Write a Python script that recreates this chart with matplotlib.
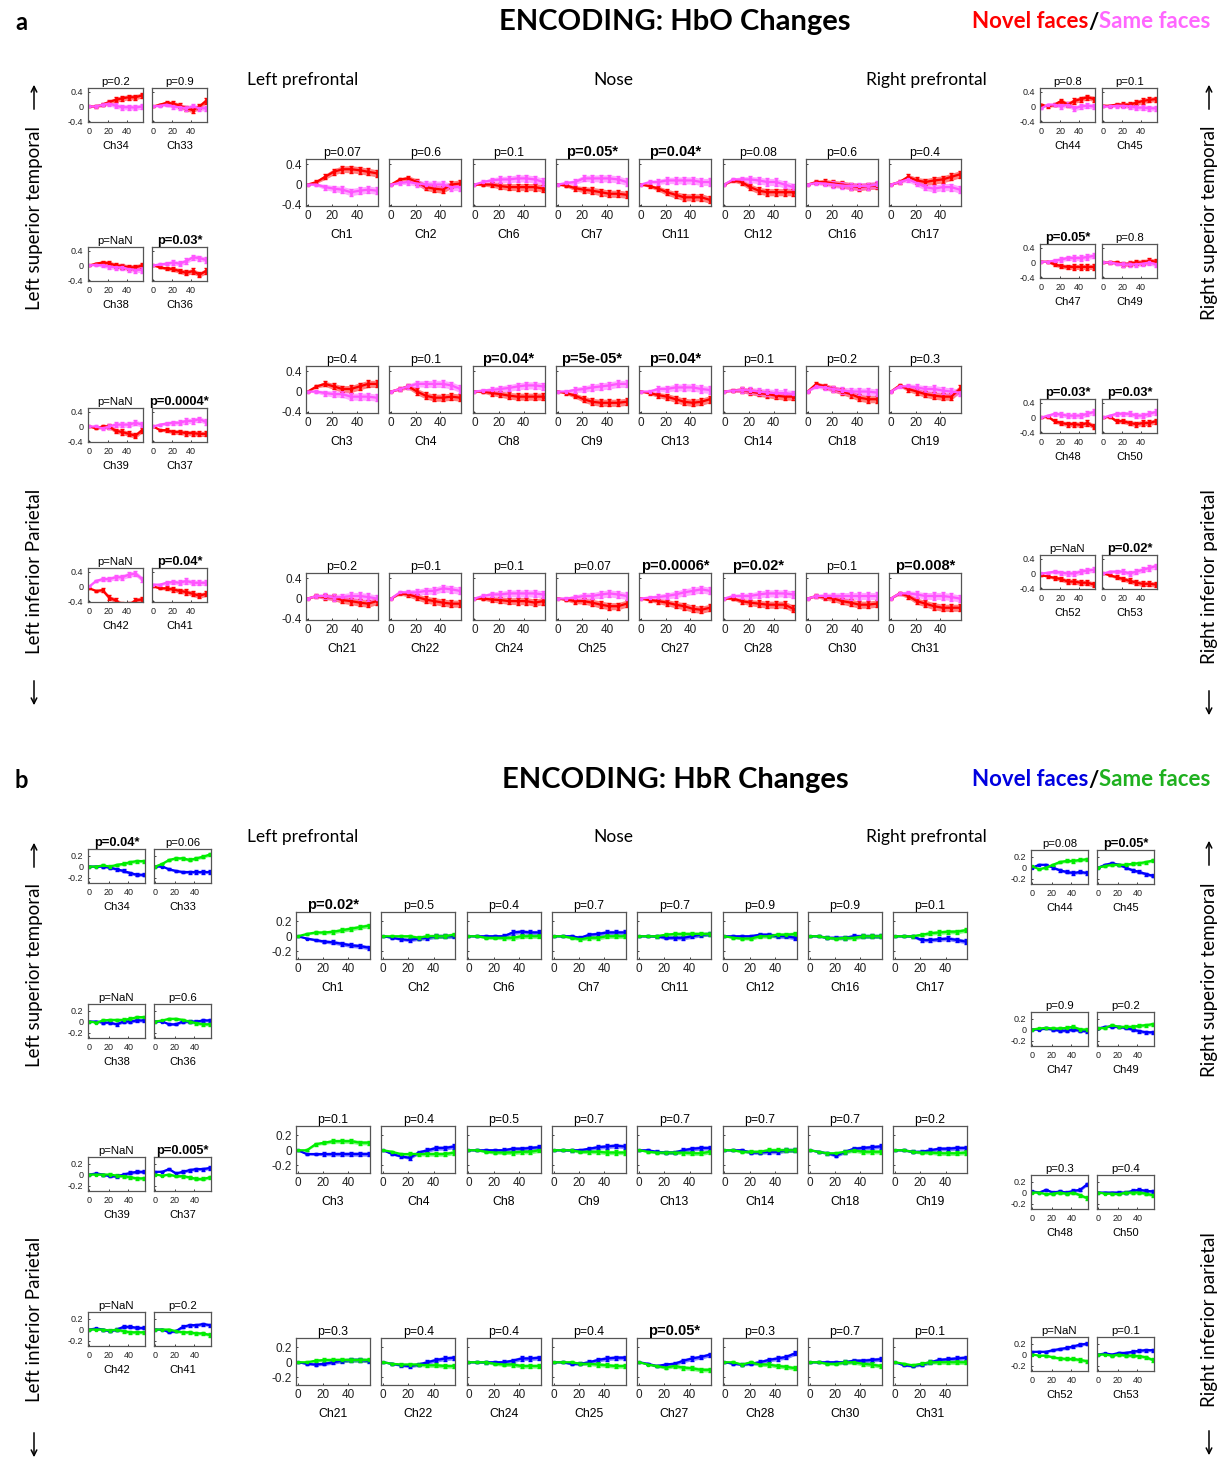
import matplotlib
matplotlib.use("Agg")
import matplotlib.pyplot as plt
import numpy as np
from matplotlib.patches import FancyArrowPatch

plt.rcParams['font.family'] = ['Liberation Sans', 'DejaVu Sans']

# time samples (every 7th sample of the block average)
t = [0, 7, 14, 21, 28, 35, 42, 49, 56]
hbo_err = [0.01, 0.03, 0.05, 0.06, 0.065, 0.07, 0.07, 0.07, 0.07]
hbr_err = [0.005, 0.012, 0.018, 0.022, 0.025, 0.027, 0.028, 0.028, 0.028]

# ---------------- a: HbO ----------------
hbo_left_ch = ['Ch34', 'Ch33', 'Ch38', 'Ch36', 'Ch39', 'Ch37', 'Ch42', 'Ch41']
hbo_left_p = ['p=0.2', 'p=0.9', 'p=NaN', 'p=0.03*', 'p=NaN', 'p=0.0004*', 'p=NaN', 'p=0.04*']
hbo_left_novel = [
    [0, 0, 0.05, 0.12, 0.18, 0.22, 0.25, 0.25, 0.3],
    [0, 0.05, 0.1, 0.08, 0.02, -0.05, -0.1, 0.0, 0.15],
    [0, 0.05, 0.08, 0.06, 0.0, -0.02, -0.05, -0.05, 0.0],
    [0, -0.05, -0.08, -0.1, -0.15, -0.2, -0.15, -0.25, -0.15],
    [0, -0.05, 0.0, 0.0, -0.12, -0.15, -0.2, -0.25, -0.1],
    [0, -0.1, -0.1, -0.15, -0.15, -0.18, -0.18, -0.2, -0.2],
    [-0.05, -0.12, -0.1, -0.3, -0.38, -0.5, -0.5, -0.38, -0.35],
    [0, -0.05, -0.05, -0.08, -0.12, -0.15, -0.2, -0.25, -0.2],
]
hbo_left_same = [
    [0, 0, 0.05, 0.08, 0.02, -0.02, -0.02, -0.03, 0.0],
    [0, 0.02, 0.05, 0.0, -0.02, -0.05, 0.0, -0.05, -0.05],
    [0, 0.02, 0.0, -0.03, -0.05, -0.05, -0.1, -0.12, -0.12],
    [0, 0.03, 0.05, 0.08, 0.05, 0.12, 0.22, 0.2, 0.15],
    [0, 0.0, -0.05, 0.0, 0.05, 0.05, 0.05, 0.1, 0.05],
    [0, 0.05, 0.08, 0.1, 0.1, 0.15, 0.15, 0.2, 0.12],
    [0.0, 0.15, 0.2, 0.2, 0.25, 0.25, 0.32, 0.35, 0.2],
    [0.05, 0.05, 0.1, 0.12, 0.1, 0.15, 0.1, 0.1, 0.1],
]

hbo_mid_ch = ['Ch1', 'Ch2', 'Ch6', 'Ch7', 'Ch11', 'Ch12', 'Ch16', 'Ch17',
              'Ch3', 'Ch4', 'Ch8', 'Ch9', 'Ch13', 'Ch14', 'Ch18', 'Ch19',
              'Ch21', 'Ch22', 'Ch24', 'Ch25', 'Ch27', 'Ch28', 'Ch30', 'Ch31']
hbo_mid_p = ['p=0.07', 'p=0.6', 'p=0.1', 'p=0.05*', 'p=0.04*', 'p=0.08', 'p=0.6', 'p=0.4',
             'p=0.4', 'p=0.1', 'p=0.04*', 'p=5e-05*', 'p=0.04*', 'p=0.1', 'p=0.2', 'p=0.3',
             'p=0.2', 'p=0.1', 'p=0.1', 'p=0.07', 'p=0.0006*', 'p=0.02*', 'p=0.1', 'p=0.008*']
hbo_mid_novel = [
    [0, 0.05, 0.15, 0.25, 0.3, 0.3, 0.28, 0.25, 0.22],
    [0, 0.1, 0.12, 0.05, -0.05, -0.08, -0.1, 0.0, 0.02],
    [0, 0.0, 0.0, -0.03, -0.05, -0.05, -0.05, -0.05, -0.08],
    [0, -0.02, -0.07, -0.1, -0.12, -0.15, -0.18, -0.18, -0.2],
    [0, -0.03, -0.08, -0.15, -0.2, -0.25, -0.25, -0.25, -0.3],
    [0, 0.08, 0.05, -0.05, -0.12, -0.15, -0.15, -0.15, -0.15],
    [0, 0.05, 0.05, 0.02, 0.0, -0.03, -0.05, -0.03, -0.02],
    [0, 0.05, 0.15, 0.08, 0.05, 0.08, 0.1, 0.15, 0.2],
    [0, 0.1, 0.15, 0.1, 0.05, 0.05, 0.1, 0.15, 0.15],
    [0, 0.05, 0.1, 0.0, -0.08, -0.12, -0.12, -0.1, -0.12],
    [0, 0.0, -0.03, -0.05, -0.08, -0.1, -0.1, -0.1, -0.1],
    [0, -0.03, -0.08, -0.15, -0.2, -0.22, -0.22, -0.22, -0.2],
    [0, -0.03, -0.07, -0.1, -0.15, -0.2, -0.22, -0.2, -0.15],
    [0, 0.02, 0.03, 0.0, -0.03, -0.05, -0.08, -0.1, -0.1],
    [0, 0.15, 0.1, 0.05, 0.0, -0.05, -0.12, -0.15, -0.15],
    [0, 0.12, 0.05, 0.0, -0.05, -0.08, -0.1, -0.1, 0.05],
    [0, 0.05, 0.03, 0.02, -0.03, -0.05, -0.08, -0.1, -0.05],
    [0, 0.1, 0.08, 0.03, -0.02, -0.05, -0.08, -0.1, -0.1],
    [0, 0.0, -0.02, -0.03, -0.05, -0.05, -0.05, -0.08, -0.05],
    [0, -0.02, -0.05, -0.05, -0.08, -0.12, -0.15, -0.15, -0.1],
    [0, -0.03, -0.05, -0.08, -0.12, -0.15, -0.2, -0.22, -0.18],
    [0, 0.0, -0.05, -0.08, -0.1, -0.12, -0.12, -0.12, -0.2],
    [0, 0.05, 0.02, 0.0, -0.05, -0.08, -0.12, -0.12, -0.1],
    [0, 0.1, 0.05, -0.05, -0.1, -0.15, -0.18, -0.18, -0.18],
]
hbo_mid_same = [
    [0, 0, -0.05, -0.08, -0.1, -0.15, -0.12, -0.1, -0.12],
    [0, 0.03, 0.05, 0.02, 0.0, 0.0, 0.0, -0.05, -0.05],
    [0, 0.05, 0.08, 0.1, 0.1, 0.12, 0.12, 0.1, 0.05],
    [0, 0.03, 0.05, 0.12, 0.12, 0.12, 0.12, 0.1, 0.05],
    [0, 0.05, 0.05, 0.08, 0.08, 0.08, 0.08, 0.05, 0.05],
    [0, 0.1, 0.1, 0.1, 0.08, 0.05, 0.05, 0.0, -0.05],
    [0, 0.03, 0.02, 0.0, -0.02, -0.03, -0.03, -0.03, 0.0],
    [0, 0.05, 0.1, 0.03, -0.05, -0.08, -0.05, -0.05, -0.1],
    [0, 0, -0.03, -0.05, -0.05, -0.1, -0.1, -0.1, -0.12],
    [0, 0.05, 0.1, 0.15, 0.15, 0.15, 0.15, 0.12, 0.05],
    [0, 0.02, 0.03, 0.05, 0.07, 0.1, 0.12, 0.12, 0.1],
    [0, 0.0, 0.03, 0.05, 0.08, 0.1, 0.12, 0.15, 0.15],
    [0, 0.0, 0.05, 0.05, 0.08, 0.08, 0.08, 0.05, 0.03],
    [0, 0.02, 0.03, 0.02, 0.0, -0.02, -0.03, -0.03, -0.05],
    [0, 0.1, 0.08, 0.05, 0.02, 0.0, 0.0, 0.0, -0.02],
    [0, 0.1, 0.1, 0.08, 0.05, 0.05, 0.02, 0.0, -0.02],
    [0, 0.05, 0.05, 0.02, 0.03, 0.05, 0.05, 0.03, 0.0],
    [0, 0.12, 0.12, 0.12, 0.15, 0.15, 0.2, 0.18, 0.15],
    [0, 0.05, 0.08, 0.08, 0.1, 0.1, 0.1, 0.1, 0.08],
    [0, 0.0, 0.02, 0.05, 0.05, 0.08, 0.1, 0.08, 0.05],
    [0, 0.02, 0.03, 0.05, 0.08, 0.12, 0.15, 0.18, 0.15],
    [0, 0.05, 0.05, 0.05, 0.08, 0.1, 0.1, 0.1, 0.08],
    [0, 0.05, 0.05, 0.05, 0.05, 0.05, 0.05, 0.05, 0.05],
    [0, 0.1, 0.1, 0.08, 0.05, 0.05, 0.05, 0.03, 0.0],
]

hbo_right_ch = ['Ch44', 'Ch45', 'Ch47', 'Ch49', 'Ch48', 'Ch50', 'Ch52', 'Ch53']
hbo_right_p = ['p=0.8', 'p=0.1', 'p=0.05*', 'p=0.8', 'p=0.03*', 'p=0.03*', 'p=NaN', 'p=0.02*']
hbo_right_novel = [
    [0.05, 0.0, 0.05, 0.15, 0.05, 0.15, 0.2, 0.25, 0.2],
    [0.02, 0.02, 0.05, 0.05, 0.05, 0.1, 0.15, 0.18, 0.2],
    [0.02, 0.02, -0.05, -0.1, -0.12, -0.12, -0.12, -0.12, -0.12],
    [0, 0.0, 0.0, -0.05, -0.03, 0.0, 0.0, 0.05, 0.02],
    [0, 0.02, -0.1, -0.15, -0.18, -0.18, -0.2, -0.15, -0.25],
    [0, 0.02, -0.1, -0.1, -0.15, -0.18, -0.15, -0.15, -0.1],
    [-0.05, -0.08, -0.12, -0.15, -0.22, -0.22, -0.25, -0.25, -0.3],
    [0, -0.05, -0.1, -0.15, -0.2, -0.25, -0.28, -0.28, -0.3],
]
hbo_right_same = [
    [-0.05, 0.05, 0.05, 0.0, 0.05, -0.05, 0.0, 0.02, 0.0],
    [0, 0.0, 0.02, 0.02, 0.0, -0.03, -0.03, -0.05, -0.05],
    [0.02, 0.02, 0.05, 0.08, 0.12, 0.12, 0.12, 0.15, 0.18],
    [0, 0.0, -0.03, -0.05, -0.05, -0.05, -0.03, 0.0, -0.05],
    [0, 0.05, 0.1, 0.08, 0.05, 0.05, 0.05, 0.1, 0.15],
    [0, 0.05, 0.1, 0.1, 0.1, 0.05, 0.05, 0.1, 0.15],
    [0, 0.02, 0.05, 0.02, 0.0, 0.0, 0.05, 0.08, 0.1],
    [0, 0.05, 0.05, 0.05, 0.0, 0.05, 0.1, 0.15, 0.2],
]

# ---------------- b: HbR ----------------
hbr_left_ch = ['Ch34', 'Ch33', 'Ch38', 'Ch36', 'Ch39', 'Ch37', 'Ch42', 'Ch41']
hbr_left_p = ['p=0.04*', 'p=0.06', 'p=NaN', 'p=0.6', 'p=NaN', 'p=0.005*', 'p=NaN', 'p=0.2']
hbr_left_novel = [
    [0, 0.0, 0.0, -0.02, -0.05, -0.08, -0.12, -0.15, -0.15],
    [0, 0.0, -0.05, -0.08, -0.1, -0.1, -0.1, -0.1, -0.1],
    [0, 0.0, -0.02, -0.02, -0.05, 0.0, 0.0, 0.02, 0.02],
    [0, 0.0, -0.05, -0.05, 0.0, 0.0, 0.0, 0.02, 0.02],
    [0, 0.02, 0.0, -0.03, -0.03, 0.0, 0.03, 0.05, 0.05],
    [0.05, 0.05, 0.1, 0.02, 0.05, 0.08, 0.1, 0.1, 0.12],
    [0, 0.02, 0.0, -0.03, 0.0, 0.05, 0.05, 0.03, 0.03],
    [0, 0.0, -0.05, -0.03, 0.05, 0.08, 0.08, 0.1, 0.08],
]
hbr_left_same = [
    [0, 0.0, 0.02, 0.0, 0.03, 0.05, 0.08, 0.1, 0.1],
    [0, 0.05, 0.12, 0.15, 0.15, 0.12, 0.15, 0.18, 0.22],
    [0, -0.02, 0.02, 0.03, 0.03, 0.03, 0.05, 0.08, 0.08],
    [0, 0.02, 0.05, 0.05, 0.03, 0.0, -0.03, -0.05, -0.05],
    [0, 0.0, 0.0, 0.0, -0.02, -0.03, -0.05, -0.07, -0.07],
    [0, -0.02, 0.0, -0.03, -0.03, -0.05, -0.08, -0.08, -0.05],
    [0, 0.0, 0.0, -0.02, 0.0, -0.03, -0.05, -0.05, -0.05],
    [0, 0.0, 0.0, -0.03, -0.05, -0.05, -0.07, -0.07, -0.1],
]

hbr_mid_ch = hbo_mid_ch
hbr_mid_p = ['p=0.02*', 'p=0.5', 'p=0.4', 'p=0.7', 'p=0.7', 'p=0.9', 'p=0.9', 'p=0.1',
             'p=0.1', 'p=0.4', 'p=0.5', 'p=0.7', 'p=0.7', 'p=0.7', 'p=0.7', 'p=0.2',
             'p=0.3', 'p=0.4', 'p=0.4', 'p=0.4', 'p=0.05*', 'p=0.3', 'p=0.7', 'p=0.1']
hbr_mid_novel = [
    [0, -0.03, -0.05, -0.07, -0.08, -0.1, -0.12, -0.13, -0.15],
    [0, -0.02, -0.04, -0.05, -0.03, -0.02, 0.0, 0.0, 0.0],
    [0, 0.0, 0.0, 0.0, 0.0, 0.05, 0.06, 0.05, 0.05],
    [0, 0.0, 0.0, -0.02, 0.02, 0.03, 0.05, 0.05, 0.05],
    [0, 0.0, 0.0, -0.02, -0.02, -0.02, 0.0, 0.02, 0.03],
    [0, 0.0, 0.0, 0.0, 0.02, 0.02, 0.0, 0.0, -0.02],
    [0, 0.0, -0.02, -0.02, -0.02, 0.0, 0.0, 0.0, 0.0],
    [0, 0.0, 0.0, -0.05, -0.05, -0.04, -0.03, -0.05, -0.07],
    [0, -0.05, -0.05, -0.05, -0.05, -0.05, -0.05, -0.05, -0.05],
    [0, -0.05, -0.08, -0.1, -0.03, 0.0, 0.03, 0.03, 0.05],
    [0, 0.0, 0.0, 0.0, 0.0, 0.02, 0.02, 0.03, 0.04],
    [0, 0.0, 0.0, 0.0, 0.02, 0.04, 0.05, 0.06, 0.05],
    [0, 0.0, -0.02, -0.03, -0.03, 0.0, 0.02, 0.03, 0.03],
    [0, 0.0, 0.0, -0.03, -0.03, -0.02, -0.02, 0.0, 0.0],
    [0, -0.02, -0.04, -0.07, -0.02, 0.02, 0.03, 0.04, 0.05],
    [0, 0.0, -0.02, -0.02, 0.0, 0.02, 0.02, 0.03, 0.03],
    [0, -0.02, -0.03, -0.02, 0.0, 0.02, 0.03, 0.03, 0.02],
    [0, -0.02, -0.04, -0.05, -0.03, 0.0, 0.03, 0.05, 0.06],
    [0, 0.0, 0.0, 0.0, 0.0, 0.02, 0.05, 0.05, 0.06],
    [0, 0.0, -0.02, -0.02, 0.0, 0.03, 0.05, 0.06, 0.06],
    [0, -0.02, -0.05, -0.03, -0.02, 0.02, 0.05, 0.07, 0.1],
    [0, -0.02, -0.03, -0.02, 0.0, 0.03, 0.05, 0.07, 0.12],
    [0, 0.0, 0.0, 0.0, 0.0, 0.02, 0.02, 0.03, 0.04],
    [0, -0.04, -0.05, -0.03, 0.0, 0.03, 0.04, 0.05, 0.06],
]
hbr_mid_same = [
    [0, 0.03, 0.05, 0.05, 0.06, 0.08, 0.1, 0.12, 0.14],
    [0, 0.0, 0.0, 0.0, -0.02, 0.0, 0.0, 0.0, 0.02],
    [0, 0.0, -0.02, -0.02, -0.02, -0.02, 0.0, 0.0, 0.0],
    [0, 0.0, -0.02, -0.04, -0.02, -0.02, 0.0, 0.0, 0.0],
    [0, 0.0, 0.0, 0.02, 0.03, 0.03, 0.03, 0.03, 0.03],
    [0, -0.02, -0.03, -0.03, 0.0, 0.0, 0.02, 0.02, 0.03],
    [0, 0.0, -0.02, -0.03, -0.02, -0.02, 0.0, 0.0, 0.0],
    [0, 0.0, 0.0, 0.02, 0.04, 0.05, 0.06, 0.06, 0.08],
    [0, 0.0, 0.08, 0.1, 0.12, 0.12, 0.12, 0.1, 0.1],
    [0, -0.02, -0.05, -0.05, -0.05, -0.05, -0.05, -0.05, -0.03],
    [0, 0.0, -0.02, -0.03, -0.03, -0.03, -0.02, -0.02, 0.0],
    [0, 0.0, 0.0, -0.02, -0.02, -0.02, -0.03, -0.03, -0.03],
    [0, -0.02, -0.03, -0.03, -0.03, -0.03, -0.04, -0.04, -0.02],
    [0, 0.0, -0.02, -0.02, -0.02, 0.0, 0.0, 0.0, 0.0],
    [0, -0.02, -0.04, -0.04, -0.02, 0.0, -0.02, -0.02, -0.02],
    [0, 0.0, -0.02, -0.03, -0.03, -0.04, -0.04, -0.04, -0.03],
    [0, 0.0, 0.02, 0.03, 0.03, 0.03, 0.03, 0.03, 0.03],
    [0, -0.02, -0.03, -0.03, -0.03, -0.04, -0.04, -0.05, -0.05],
    [0, 0.0, 0.0, -0.02, -0.03, -0.03, -0.05, -0.05, -0.05],
    [0, 0.0, 0.0, -0.02, -0.02, -0.03, -0.04, -0.05, -0.05],
    [0, -0.03, -0.05, -0.07, -0.05, -0.07, -0.08, -0.1, -0.1],
    [0, 0.0, -0.03, 0.0, -0.03, -0.03, -0.05, -0.06, -0.08],
    [0, 0.0, -0.02, -0.02, 0.0, 0.0, -0.02, -0.03, -0.05],
    [0, -0.02, -0.04, -0.02, 0.0, 0.0, 0.0, 0.0, 0.0],
]

hbr_right_ch = hbo_right_ch
hbr_right_p = ['p=0.08', 'p=0.05*', 'p=0.9', 'p=0.2', 'p=0.3', 'p=0.4', 'p=NaN', 'p=0.1']
hbr_right_novel = [
    [0.0, 0.05, 0.05, 0.0, -0.05, -0.08, -0.1, -0.08, -0.1],
    [0, 0.05, 0.08, 0.05, 0.0, -0.05, -0.08, -0.12, -0.15],
    [0, 0.0, 0.02, 0.0, -0.02, -0.02, 0.0, -0.02, -0.03],
    [0.02, 0.05, 0.05, 0.05, 0.03, 0.0, -0.03, -0.05, -0.05],
    [0.02, 0.0, 0.05, 0.0, 0.02, 0.0, 0.03, 0.05, 0.15],
    [0, 0.0, 0.0, 0.0, 0.0, 0.03, 0.05, 0.03, 0.02],
    [0.05, 0.05, 0.05, 0.08, 0.1, 0.12, 0.15, 0.18, 0.2],
    [0, 0.02, 0.0, 0.03, 0.03, 0.05, 0.07, 0.08, 0.08],
]
hbr_right_same = [
    [0.02, -0.03, 0.0, 0.05, 0.1, 0.12, 0.12, 0.14, 0.15],
    [0, 0.03, 0.05, 0.05, 0.05, 0.07, 0.08, 0.1, 0.13],
    [0, 0.02, 0.03, 0.02, 0.02, 0.03, 0.05, 0.0, 0.0],
    [0.02, 0.03, 0.08, 0.05, 0.05, 0.05, 0.07, 0.08, 0.1],
    [0, 0.0, -0.03, -0.02, 0.0, -0.02, 0.0, -0.05, -0.1],
    [0, -0.02, -0.02, -0.03, 0.0, 0.0, 0.0, -0.02, -0.05],
    [0.0, -0.02, -0.02, -0.05, -0.07, -0.08, -0.08, -0.1, -0.12],
    [0, 0.0, -0.02, 0.0, -0.02, -0.02, -0.03, -0.05, -0.1],
]

W, H = 1221, 1460
fig = plt.figure(figsize=(W / 100, H / 100), dpi=100)
hfont = ['Lato', 'DejaVu Sans']


def px_axes(x0, top, w, h):
    return fig.add_axes([x0 / W, 1 - (top + h) / H, w / W, h / H])


def ftext(x, y, s, **kw):
    return fig.text(x / W, 1 - y / H, s, **kw)


def draw_channel(ax, novel, same, err, cols, ylim, yticks, ytl, ptxt, ch, small, show_y):
    e = np.array(err)
    for y, c in ((novel, cols[0]), (same, cols[1])):
        y = np.array(y)
        ax.fill_between(t, y - e, y + e, color=c, alpha=0.5, lw=0)
        ax.errorbar(t, y, yerr=e, fmt='-s', color=c, ms=2.0, lw=1.6,
                    elinewidth=1.8, capsize=1.2)
    ax.set_xlim(-1.5, 57)
    ax.set_ylim(*ylim)
    ax.set_xticks([0, 20, 40])
    ax.set_yticks(yticks)
    ax.set_yticklabels(ytl if show_y else [])
    fs = 6.5 if small else 8.5
    ax.tick_params(direction='in', length=1.5, width=0.6, labelsize=fs,
                   pad=3.5 if small else 3, colors='#222222')
    for s in ax.spines.values():
        s.set_color('#555555')
        s.set_linewidth(0.9)
    bold = '*' in ptxt
    pfs = (9.3 if bold else 8.2) if small else (10.5 if bold else 8.8)
    ax.set_title(ptxt, fontsize=pfs, fontweight='bold' if bold else 'normal', pad=2)
    ax.set_xlabel(ch, fontsize=8 if small else 8.8, labelpad=3.5 if small else 5)


def draw_panel(cfg):
    for k in range(8):
        ax = px_axes(cfg['left_x'][k % 2], cfg['left_top'][k // 2], cfg['side_w'], 34)
        draw_channel(ax, cfg['left_novel'][k], cfg['left_same'][k], cfg['err'], cfg['cols'],
                     cfg['ylim'], cfg['yticks'], cfg['ytl'], cfg['left_p'][k], cfg['left_ch'][k],
                     True, k % 2 == 0)
        ax = px_axes(cfg['right_x'][k % 2], cfg['right_top'][k // 2], cfg['side_w'], 34)
        draw_channel(ax, cfg['right_novel'][k], cfg['right_same'][k], cfg['err'], cfg['cols'],
                     cfg['ylim'], cfg['yticks'], cfg['ytl'], cfg['right_p'][k], cfg['right_ch'][k],
                     True, k % 2 == 0)
    for k in range(24):
        col, row = k % 8, k // 8
        ax = px_axes(cfg['mid_x0'] + col * cfg['mid_pitch'], cfg['mid_top'][row], cfg['mid_w'], 47)
        draw_channel(ax, cfg['mid_novel'][k], cfg['mid_same'][k], cfg['err'], cfg['cols'],
                     cfg['ylim'], cfg['yticks'], cfg['ytl'], cfg['mid_p'][k], cfg['mid_ch'][k],
                     False, col == 0)


cfg_a = dict(left_x=[88, 152], right_x=[1040, 1102], side_w=55,
             left_top=[88, 247, 408, 568], right_top=[88, 244, 399, 555],
             mid_x0=306, mid_pitch=83.3, mid_w=72, mid_top=[159, 366, 573],
             ylim=(-0.42, 0.5), yticks=[-0.4, 0, 0.4], ytl=['-0.4', '0', '0.4'],
             err=hbo_err, cols=['#ff0000', '#ff55ff'],
             left_ch=hbo_left_ch, left_p=hbo_left_p, left_novel=hbo_left_novel, left_same=hbo_left_same,
             right_ch=hbo_right_ch, right_p=hbo_right_p, right_novel=hbo_right_novel, right_same=hbo_right_same,
             mid_ch=hbo_mid_ch, mid_p=hbo_mid_p, mid_novel=hbo_mid_novel, mid_same=hbo_mid_same)
cfg_b = dict(left_x=[88, 154], right_x=[1031, 1097], side_w=57,
             left_top=[849, 1004, 1157, 1312], right_top=[850, 1012, 1175, 1337],
             mid_x0=296, mid_pitch=85.3, mid_w=74, mid_top=[912, 1126, 1338],
             ylim=(-0.3, 0.32), yticks=[-0.2, 0, 0.2], ytl=['-0.2', '0', '0.2'],
             err=hbr_err, cols=['#0000ff', '#00ee00'],
             left_ch=hbr_left_ch, left_p=hbr_left_p, left_novel=hbr_left_novel, left_same=hbr_left_same,
             right_ch=hbr_right_ch, right_p=hbr_right_p, right_novel=hbr_right_novel, right_same=hbr_right_same,
             mid_ch=hbr_mid_ch, mid_p=hbr_mid_p, mid_novel=hbr_mid_novel, mid_same=hbr_mid_same)

draw_panel(cfg_a)
draw_panel(cfg_b)

renderer = fig.canvas.get_renderer()


def header(y, letter, title, c1, c2):
    ftext(15, y, letter, fontsize=17, fontweight='bold', family=hfont, ha='left', va='center')
    ftext(675, y, title, fontsize=21, fontweight='bold', family=hfont, ha='center', va='center')
    t2 = ftext(1210, y, 'Same faces', fontsize=16, fontweight='bold', family=hfont,
               color=c2, ha='right', va='center')
    x = t2.get_window_extent(renderer).x0
    t3 = ftext(x, y, '/', fontsize=16, fontweight='bold', family=hfont, ha='right', va='center')
    x = t3.get_window_extent(renderer).x0
    ftext(x, y, 'Novel faces', fontsize=16, fontweight='bold', family=hfont,
          color=c1, ha='right', va='center')


def arrow(x, y0, y1):
    fig.add_artist(FancyArrowPatch((x / W, 1 - y0 / H), (x / W, 1 - y1 / H),
                                   transform=fig.transFigure, arrowstyle='->',
                                   mutation_scale=10, lw=1.1, color='k'))


def regions(ylab, side):
    ftext(247, ylab, 'Left prefrontal', fontsize=12.5, family=hfont, ha='left', va='center')
    ftext(613, ylab, 'Nose', fontsize=12.5, family=hfont, ha='center', va='center')
    ftext(987, ylab, 'Right prefrontal', fontsize=12.5, family=hfont, ha='right', va='center')
    for (x, yc, s, a0, a1) in side:
        ftext(x, yc, s, fontsize=13.5, family=hfont, rotation=90, ha='center', va='center')
        arrow(x - 1, a0, a1)


header(22, 'a', 'ENCODING: HbO Changes', '#ff0000', '#ff66ff')
header(780, 'b', 'ENCODING: HbR Changes', '#0000e0', '#1fb01f')

regions(80, [(35, 218, 'Left superior temporal', 112, 82),
             (35, 571, 'Left inferior Parietal', 678, 708),
             (1210, 223, 'Right superior temporal', 112, 82),
             (1210, 577, 'Right inferior parietal', 688, 718)])
regions(837, [(35, 975, 'Left superior temporal', 870, 840),
              (35, 1319, 'Left inferior Parietal', 1430, 1460),
              (1210, 980, 'Right superior temporal', 868, 838),
              (1210, 1320, 'Right inferior parietal', 1428, 1458)])

fig.savefig('out.png', dpi=100)
